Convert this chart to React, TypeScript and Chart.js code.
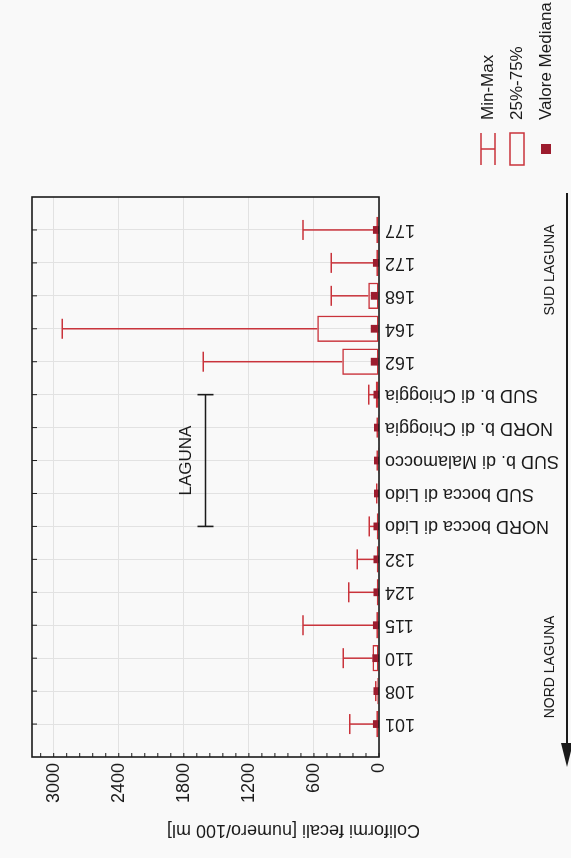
import React, { useEffect, useRef } from 'react';
import { Chart, registerables } from 'chart.js';

Chart.register(...registerables);

// ---------- data ----------
const categories = [
  '101', '108', '110', '115', '124', '132',
  'NORD bocca di Lido', 'SUD bocca di Lido', 'SUD b. di Malamocco',
  'NORD b. di Chioggia', 'SUD b. di Chioggia',
  '162', '164', '168', '172', '177',
];
const minValues = [0, 0, 0, 0, 0, 0, 0, 0, 0, 0, 0, 0, 0, 0, 0, 0];
const q1Values = [0, 0, 5, 0, 0, 0, 0, 0, 0, 0, 0, 0, 0, 0, 0, 0];
const medianValues = [20, 15, 25, 20, 15, 15, 15, 10, 10, 10, 15, 40, 40, 40, 20, 20];
const q3Values = [25, 15, 60, 25, 20, 20, 20, 10, 10, 10, 30, 340, 570, 100, 25, 25];
const maxValues = [270, 30, 330, 700, 280, 200, 90, 20, 15, 15, 95, 1620, 2920, 440, 440, 700];

const valueTicks = [0, 600, 1200, 1800, 2400, 3000];
const valueMin = 0;
const valueMax = 3200;
const minorStep = 120;

const axisTitle = 'Coliformi fecali [numero/100 ml]';
const lagunaLabel = 'LAGUNA';
const lagunaFrom = 'NORD bocca di Lido';
const lagunaTo = 'SUD b. di Chioggia';
const lagunaValue = 1600;
const nordLabel = 'NORD LAGUNA';
const sudLabel = 'SUD LAGUNA';
const legendLabels = ['Min-Max', '25%-75%', 'Valore Mediana'];

// ---------- styles ----------
const RED = '#c9333b';
const DARK = '#9c1c2e';
const INK = '#1b1b1b';
const GRID = '#e2e2e2';
const FONT = '"Liberation Sans", Arial, Helvetica, sans-serif';

const whiskerPlugin = {
  id: 'whiskers',
  beforeDatasetsDraw(chart: any) {
    const { ctx, scales } = chart;
    const x = scales.x;
    const y = scales.y;
    ctx.save();
    ctx.strokeStyle = RED;
    ctx.lineWidth = 1.5;
    const cap = 10;
    categories.forEach((_, i) => {
      const px = x.getPixelForValue(i);
      if (maxValues[i] > q3Values[i]) {
        const a = y.getPixelForValue(q3Values[i]);
        const b = y.getPixelForValue(maxValues[i]);
        ctx.beginPath();
        ctx.moveTo(px, a);
        ctx.lineTo(px, b);
        ctx.moveTo(px - cap, b);
        ctx.lineTo(px + cap, b);
        ctx.stroke();
      }
      if (q1Values[i] > minValues[i]) {
        const a = y.getPixelForValue(q1Values[i]);
        const b = y.getPixelForValue(minValues[i]);
        ctx.beginPath();
        ctx.moveTo(px, a);
        ctx.lineTo(px, b);
        ctx.stroke();
      }
    });
    ctx.restore();
  },
};

const framePlugin = {
  id: 'frame',
  afterDatasetsDraw(chart: any) {
    const { ctx, chartArea, scales } = chart;
    const { left, right, top, bottom } = chartArea;
    ctx.save();
    ctx.strokeStyle = INK;
    ctx.lineWidth = 1.6;
    ctx.strokeRect(left, top, right - left, bottom - top);
    ctx.lineWidth = 1;
    categories.forEach((_, i) => {
      const px = scales.x.getPixelForValue(i);
      ctx.beginPath();
      ctx.moveTo(px, top);
      ctx.lineTo(px, top + 5);
      ctx.stroke();
    });
    for (let v = valueMin; v <= valueMax; v += minorStep) {
      const py = scales.y.getPixelForValue(v);
      ctx.beginPath();
      ctx.moveTo(left, py);
      ctx.lineTo(left + 4, py);
      ctx.stroke();
    }
    ctx.restore();
  },
};

const annotationPlugin = {
  id: 'annotations',
  afterDraw(chart: any) {
    const { ctx, chartArea, scales } = chart;
    const x = scales.x;
    const y = scales.y;
    ctx.save();

    // axis title (placed toward the zero end, as in the original)
    ctx.save();
    ctx.fillStyle = INK;
    ctx.font = `18px ${FONT}`;
    ctx.textAlign = 'left';
    ctx.textBaseline = 'middle';
    ctx.translate(28, chartArea.bottom + 41);
    ctx.rotate(-Math.PI / 2);
    ctx.fillText(axisTitle, 0, 0);
    ctx.restore();

    // LAGUNA bracket
    const x1 = x.getPixelForValue(categories.indexOf(lagunaFrom));
    const x2 = x.getPixelForValue(categories.indexOf(lagunaTo));
    const ly = y.getPixelForValue(lagunaValue);
    ctx.strokeStyle = INK;
    ctx.lineWidth = 1.6;
    ctx.beginPath();
    ctx.moveTo(x1, ly);
    ctx.lineTo(x2, ly);
    ctx.moveTo(x1, ly - 8);
    ctx.lineTo(x1, ly + 8);
    ctx.moveTo(x2, ly - 8);
    ctx.lineTo(x2, ly + 8);
    ctx.stroke();
    ctx.fillStyle = INK;
    ctx.font = `17px ${FONT}`;
    ctx.textAlign = 'center';
    ctx.textBaseline = 'bottom';
    ctx.fillText(lagunaLabel, (x1 + x2) / 2, ly - 11);

    // direction arrow below the labels
    const ay = 567;
    const tipX = chartArea.left - 10;
    ctx.lineWidth = 2;
    ctx.beginPath();
    ctx.moveTo(chartArea.right + 4, ay);
    ctx.lineTo(tipX + 15, ay);
    ctx.stroke();
    ctx.beginPath();
    ctx.moveTo(tipX, ay);
    ctx.lineTo(tipX + 24, ay - 6);
    ctx.lineTo(tipX + 24, ay + 6);
    ctx.closePath();
    ctx.fill();

    ctx.font = `14px ${FONT}`;
    ctx.textBaseline = 'middle';
    ctx.textAlign = 'center';
    ctx.fillText(nordLabel, chartArea.left + 90, 550);
    ctx.fillText(sudLabel, chartArea.right - 73, 550);

    // legend
    const sx = chartArea.right + 32;
    const sw = 32;
    const rows = [chartArea.bottom + 109, chartArea.bottom + 138, chartArea.bottom + 167];
    ctx.strokeStyle = RED;
    ctx.lineWidth = 1.5;
    ctx.beginPath();
    ctx.moveTo(sx, rows[0] - 7);
    ctx.lineTo(sx + sw, rows[0] - 7);
    ctx.moveTo(sx, rows[0] + 7);
    ctx.lineTo(sx + sw, rows[0] + 7);
    ctx.moveTo(sx + sw / 2, rows[0] - 7);
    ctx.lineTo(sx + sw / 2, rows[0] + 7);
    ctx.stroke();
    ctx.strokeRect(sx, rows[1] - 7, sw, 14);
    ctx.fillStyle = DARK;
    ctx.fillRect(sx + sw / 2 - 5, rows[2] - 5, 10, 10);

    ctx.fillStyle = INK;
    ctx.font = `17px ${FONT}`;
    ctx.textAlign = 'left';
    ctx.textBaseline = 'middle';
    legendLabels.forEach((t, k) => ctx.fillText(t, sx + sw + 13, rows[k]));

    ctx.restore();
  },
};

export default function App() {
  const canvasRef = useRef<HTMLCanvasElement | null>(null);

  useEffect(() => {
    const canvas = canvasRef.current;
    if (!canvas) return;
    const chart = new Chart(canvas, {
      type: 'bar',
      data: {
        datasets: [
          {
            type: 'bar',
            label: '25%-75%',
            data: categories.map((_, i) => ({ x: i, y: [q1Values[i], q3Values[i]] })) as any,
            backgroundColor: 'rgba(255,255,255,0)',
            borderColor: RED,
            borderWidth: 1.5,
            borderSkipped: false,
            barPercentage: 0.8,
            categoryPercentage: 1,
            order: 2,
          } as any,
          {
            type: 'line',
            label: 'Valore Mediana',
            data: categories.map((_, i) => ({ x: i, y: medianValues[i] })) as any,
            showLine: false,
            pointStyle: 'rect',
            pointRadius: 5.5,
            pointBackgroundColor: DARK,
            pointBorderWidth: 0,
            borderColor: DARK,
            order: 1,
          } as any,
        ],
      },
      options: {
        animation: false,
        responsive: false,
        devicePixelRatio: 1,
        layout: { padding: { left: 0, top: 32, right: 197, bottom: 0 } },
        plugins: {
          legend: { display: false },
          tooltip: { enabled: false },
        },
        scales: {
          x: {
            type: 'linear',
            offset: false,
            min: -1,
            max: categories.length,
            afterBuildTicks: (s: any) => {
              s.ticks = categories.map((_, i) => ({ value: i }));
            },
            afterFit: (s: any) => {
              s.height = 192;
            },
            grid: { color: GRID, drawTicks: false, offset: false, lineWidth: 1 },
            border: { display: false },
            ticks: {
              autoSkip: false,
              minRotation: 90,
              maxRotation: 90,
              padding: 6,
              color: INK,
              font: { family: FONT, size: 18 },
              callback: (v: any) => categories[Number(v)] ?? '',
            },
          },
          y: {
            type: 'linear',
            min: valueMin,
            max: valueMax,
            afterBuildTicks: (s: any) => {
              s.ticks = valueTicks.map((v) => ({ value: v }));
            },
            afterFit: (s: any) => {
              s.width = 101;
            },
            grid: { color: GRID, drawTicks: false, lineWidth: 1 },
            border: { display: false },
            ticks: {
              padding: 6,
              color: INK,
              font: { family: FONT, size: 18 },
              callback: (v: any) => String(v),
            },
          },
        },
      } as any,
      plugins: [whiskerPlugin, framePlugin, annotationPlugin],
    });
    return () => chart.destroy();
  }, []);

  return (
    <div
      style={{
        position: 'fixed',
        left: 0,
        top: 0,
        width: 571,
        height: 858,
        overflow: 'hidden',
        background: '#f9f9f9',
      }}
    >
      <div
        style={{
          position: 'absolute',
          left: 0,
          top: 0,
          width: 858,
          height: 571,
          transformOrigin: '0 0',
          transform: 'translateY(858px) rotate(-90deg)',
        }}
      >
        <canvas ref={canvasRef} width={858} height={571} style={{ width: 858, height: 571, display: 'block' }} />
      </div>
    </div>
  );
}
